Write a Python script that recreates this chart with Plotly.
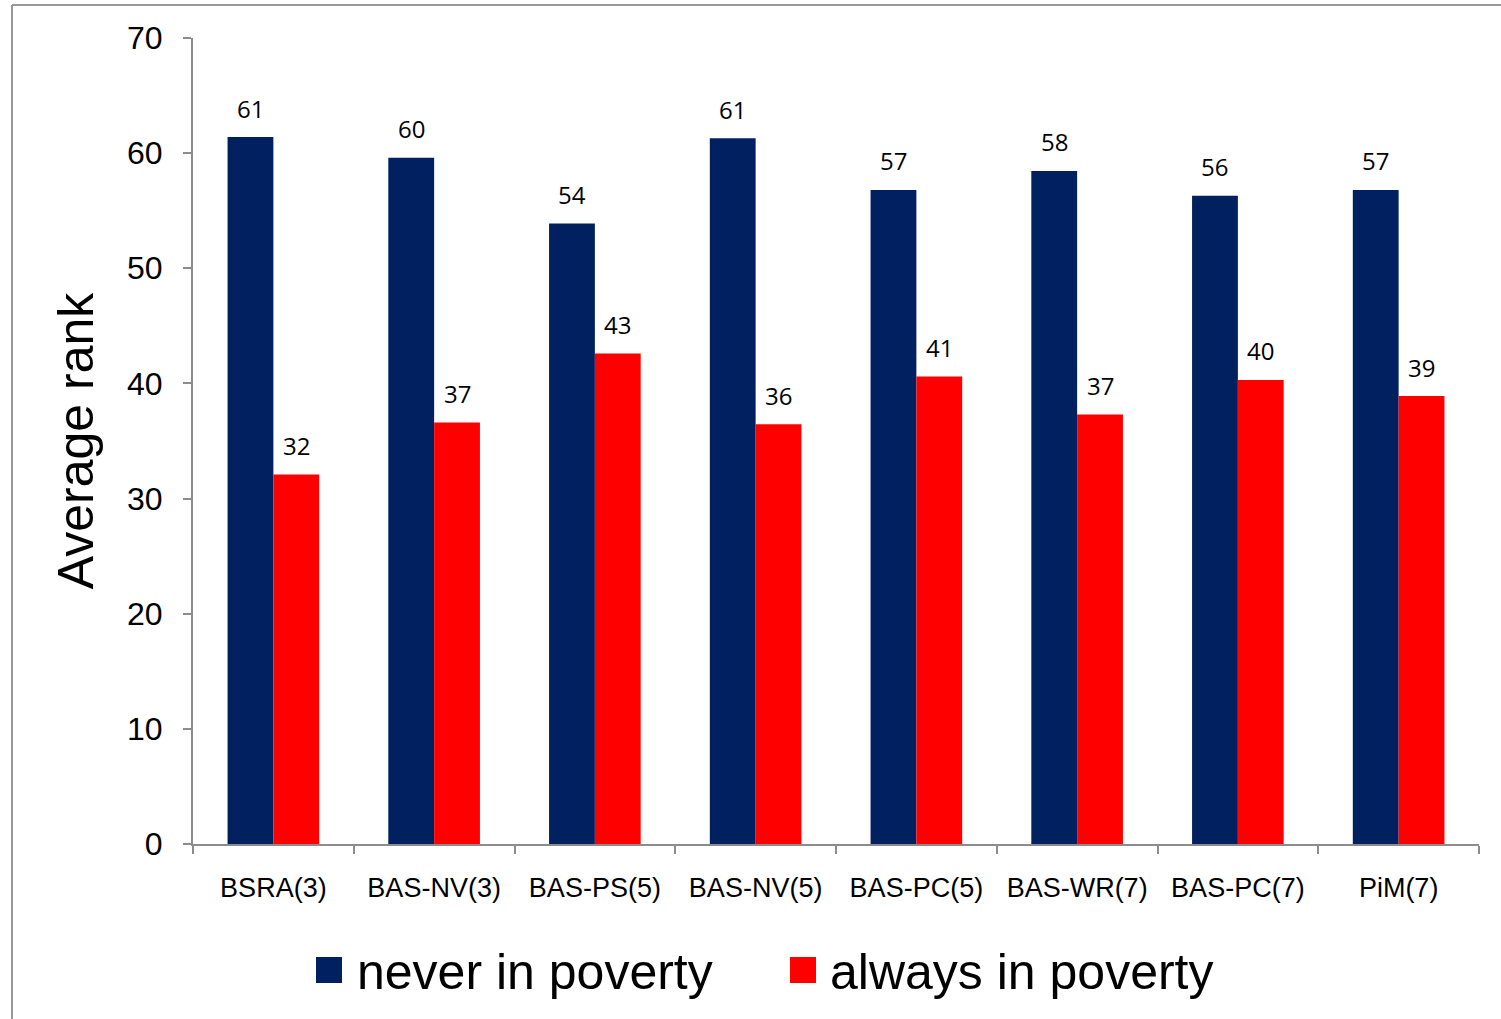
import plotly.graph_objects as go

categories = ["BSRA(3)", "BAS-NV(3)", "BAS-PS(5)", "BAS-NV(5)", "BAS-PC(5)", "BAS-WR(7)", "BAS-PC(7)", "PiM(7)"]
never_in_poverty = [61.4, 59.6, 53.9, 61.3, 56.8, 58.45, 56.3, 56.8]
always_in_poverty = [32.1, 36.6, 42.6, 36.45, 40.6, 37.3, 40.3, 38.9]
series_names = ["never in poverty", "always in poverty"]
series_colors = ["#002060", "#FF0000"]
y_ticks = [0, 10, 20, 30, 40, 50, 60, 70]

W, H = 1501, 1019
ML, MR, MT, MB = 193, 22, 38, 175
PW, PH = W - ML - MR, H - MT - MB

def px(x):
    return (x - ML) / PW

def py(y):
    return (H - MB - y) / PH

fig = go.Figure()
for name, vals, col in zip(series_names, [never_in_poverty, always_in_poverty], series_colors):
    fig.add_trace(go.Bar(x=categories, y=vals, name=name, marker=dict(color=col, line=dict(width=0)),
                         showlegend=False))

annotations = []
bar_half = (1 - 0.43) / 4 * PW / len(categories)
for shift, vals in zip([-bar_half, bar_half], [never_in_poverty, always_in_poverty]):
    for c, v in zip(categories, vals):
        annotations.append(dict(x=c, y=v, xref="x", yref="y", text=f"{v:.0f}", showarrow=False,
                                xshift=shift, yshift=29, yanchor="middle",
                                font=dict(family="Open Sans", size=24, color="#000000")))

# manual legend
legend_items = [(316, 355), (790, 828)]
shapes = []
for (sx, tx), name, col in zip(legend_items, series_names, series_colors):
    shapes.append(dict(type="rect", xref="paper", yref="paper", x0=px(sx), x1=px(sx + 26),
                       y0=py(957), y1=py(983), fillcolor=col, line=dict(width=0)))
    annotations.append(dict(x=px(tx), y=py(972), xref="paper", yref="paper", text=name, showarrow=False,
                            xanchor="left", yanchor="middle",
                            font=dict(family="Liberation Sans, Arial", size=50, color="#000000")))

# slide frame lines
shapes.append(dict(type="line", xref="paper", yref="paper", x0=px(12), x1=px(1501), y0=py(5), y1=py(5),
                   line=dict(color="#999999", width=2)))
shapes.append(dict(type="line", xref="paper", yref="paper", x0=px(12), x1=px(12), y0=py(5), y1=py(1019),
                   line=dict(color="#999999", width=2)))

fig.update_layout(
    width=W, height=H,
    margin=dict(l=ML, r=MR, t=MT, b=MB, pad=0),
    paper_bgcolor="white", plot_bgcolor="white",
    barmode="group", bargap=0.43, bargroupgap=0,
    font=dict(family="Liberation Sans, Arial", color="#000000"),
    annotations=annotations, shapes=shapes,
    xaxis=dict(showline=True, linecolor="#8c8c8c", linewidth=2, ticks="outside", tickson="boundaries",
               ticklen=8, tickcolor="#8c8c8c", tickwidth=2, tickfont=dict(size=27), ticklabelstandoff=19,
               showgrid=False, zeroline=False),
    yaxis=dict(range=[0, 70], tickvals=y_ticks, showline=True, linecolor="#8c8c8c", linewidth=2,
               ticks="outside", ticklen=8, tickcolor="#8c8c8c", tickwidth=2, tickfont=dict(size=32),
               ticklabelstandoff=14, showgrid=False, zeroline=False,
               title=dict(text="Average rank", font=dict(size=50), standoff=18)),
)

fig.write_html("out.html")
